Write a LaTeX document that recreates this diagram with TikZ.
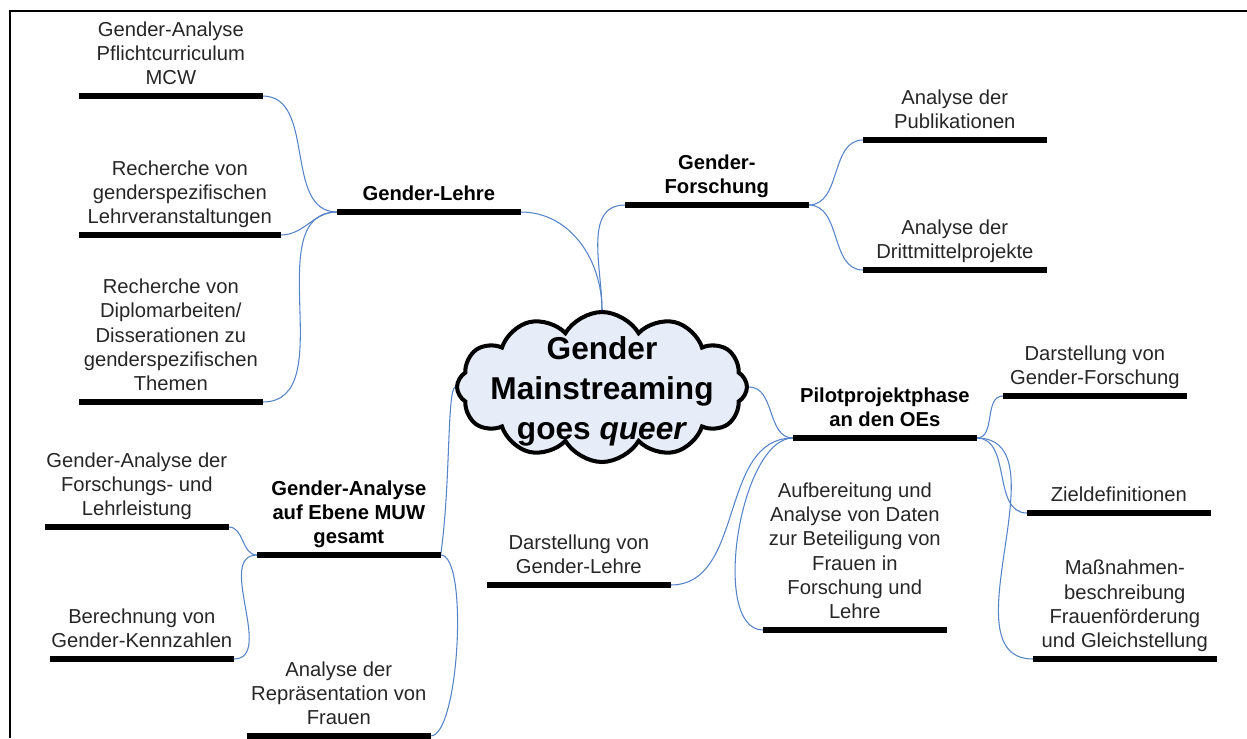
\documentclass[tikz,border=0pt]{standalone}
\usepackage{fontspec}
\setmainfont{Liberation Sans}
\usetikzlibrary{shapes.symbols}

\definecolor{linkblue}{RGB}{84,131,199}
\definecolor{cloudfill}{RGB}{231,237,248}

\begin{document}
\begin{tikzpicture}[x=0.02cm, y=-0.02cm,
		leaf/.style={anchor=south west, minimum width=3.66cm, inner xsep=0pt, inner ysep=6.3pt,
			text depth=0pt, align=center, font=\fontsize{11.5}{13.8}\selectfont, text=black!85},
		branch/.style={leaf, font=\fontsize{11.5}{13.8}\selectfont\bfseries, text=black},
		bar/.style={line width=3.4pt},
		link/.style={draw=linkblue, line width=0.6pt},
		title/.style={align=center, font=\fontsize{18}{22.7}\selectfont\bfseries}]
			\useasboundingbox (0,0) rectangle (1247,738);
			% frame
			\draw[line width=1.7pt] (10,738) -- (10,11) -- (1247,11);
			% centre
			\node[cloud, cloud puffs=12, cloud puff arc=120, aspect=2, draw, line width=2.3pt,
				fill=cloudfill, minimum width=5.8cm, minimum height=3cm] (core) at (602,387) {};
			\node[title, yshift=-0.09cm] (motto) at (core.center) {Gender\\Mainstreaming\\goes \textit{queer}};
			% Gender-Lehre
			\node[branch] (lehre) at (337,212) {Gender-Lehre};
			\node[leaf] (curr) at (79,96) {Gender-Analyse\\Pflichtcurriculum\\MCW};
			\node[leaf, minimum width=4.02cm] (lvs) at (79,235) {Recherche von\\genderspezifischen\\Lehrveranstaltungen};
			\node[leaf] (dipl) at (79,402) {Recherche von\\Diplomarbeiten/\\Disserationen zu\\genderspezifischen\\Themen};
			% Gender-Forschung
			\node[branch] (forsch) at (625,205) {Gender-\\Forschung};
			\node[leaf] (pub) at (863,140) {Analyse der\\Publikationen};
			\node[leaf] (dritt) at (863,270) {Analyse der\\Drittmittelprojekte};
			% Pilotprojektphase
			\node[branch] (pilot) at (793,438) {Pilotprojektphase\\an den OEs};
			\node[leaf] (darf) at (1003,396) {Darstellung von\\Gender-Forschung};
			\node[leaf] (ziel) at (1027,513) {Zieldefinitionen};
			\node[leaf] (mass) at (1033,659) {Maßnahmen-\\beschreibung\\Frauenförderung\\und Gleichstellung};
			\node[leaf] (aufb) at (763,630) {Aufbereitung und\\Analyse von Daten\\zur Beteiligung von\\Frauen in\\Forschung und\\Lehre};
			\node[leaf] (darl) at (487,585) {Darstellung von\\Gender-Lehre};
			% Gender-Analyse MUW
			\node[branch] (muw) at (257,555) {Gender-Analyse\\auf Ebene MUW\\gesamt};
			\node[leaf] (fol) at (45,527) {Gender-Analyse der\\Forschungs- und\\Lehrleistung};
			\node[leaf] (kenn) at (50,659) {Berechnung von\\Gender-Kennzahlen};
			\node[leaf] (repr) at (247,736) {Analyse der\\Repräsentation von\\Frauen};

			% links
			\draw[link] (core.north) to[out=90,in=0] (lehre.south east);
			\draw[link] (core.north) to[out=90,in=180] (forsch.south west);
			\draw[link] (core.east) to[out=0,in=180] (pilot.south west);
			\draw[link] (core.west) .. controls +(-8,4) and +(10,-70) .. (muw.south east);
			\foreach \n in {curr,lvs,dipl}
				\draw[link] (lehre.south west) to[out=180,in=0] (\n.south east);
			\foreach \n in {pub,dritt}
				\draw[link] (forsch.south east) to[out=0,in=180] (\n.south west);
			\foreach \n in {darf,ziel,mass}
				\draw[link] (pilot.south east) to[out=0,in=180] (\n.south west);
			\draw[link] (pilot.south west) to[out=180,in=0] (darl.south east);
			\draw[link] (pilot.south west) to[out=180,in=180,looseness=0.7] (aufb.south west);
			\foreach \n in {fol,kenn}
				\draw[link] (muw.south west) to[out=180,in=0] (\n.south east);
			\draw[link] (muw.south east) to[out=0,in=0,looseness=0.4] (repr.south east);

			% bars
			\foreach \n in {lehre,curr,lvs,dipl,forsch,pub,dritt,pilot,darf,ziel,mass,aufb,darl,muw,fol,kenn,repr}
				\draw[bar] (\n.south west) -- (\n.south east);
\end{tikzpicture}
\end{document}
